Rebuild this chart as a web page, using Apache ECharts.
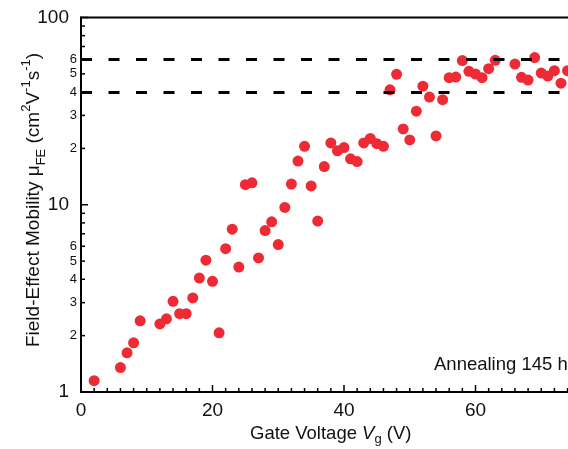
<!DOCTYPE html>
<html>
<head>
<meta charset="utf-8">
<script src="https://cdn.jsdelivr.net/npm/echarts@6/dist/echarts.min.js"></script>
<style>html,body{margin:0;padding:0;background:#fff;}#c{width:568px;height:449px;}</style>
</head>
<body>
<div id="c"></div>
<script>
const gateVoltage = [2,6,7,8,9,12,13,14,15,16,17,18,19,20,21,22,23,24,25,26,27,28,29,30,31,32,33,34,35,36,37,38,39,40,41,42,43,44,45,46,47,48,49,50,51,52,53,54,55,56,57,58,59,60,61,62,63,66,67,68,69,70,71,72,73,74];
const mobility = [1.15,1.35,1.62,1.83,2.40,2.31,2.46,3.05,2.62,2.62,3.18,4.06,5.06,3.90,2.07,5.83,7.41,4.65,12.8,13.1,5.20,7.28,8.11,6.13,9.67,12.9,17.1,20.5,12.6,8.18,16.0,21.4,19.4,20.2,17.6,17.0,21.4,22.6,21.2,20.5,41.1,49.7,25.4,22.2,31.6,43.0,37.6,23.3,36.4,47.7,48.1,58.9,51.6,49.9,47.7,53.3,59.1,56.4,47.9,46.3,61.1,50.5,48.7,52.0,44.6,52.0];
const refLines = [40, 60];
const xMajorTicks = [0, 20, 40, 60, 80];
const yMajorTicks = [1, 10, 100];
const yMinorTicks = [2,3,4,5,6,7,8,9,20,30,40,50,60,70,80,90];
const yMinorLabels = [2,3,4,5,6,20,30,40,50,60];
const xMinorTicks = [];
for (let v = 0; v <= 80; v += 2) if (v % 20 !== 0) xMinorTicks.push(v);

const FONT = '"Liberation Sans", Arial, sans-serif';
const chart = echarts.init(document.getElementById('c'), null, {renderer: 'canvas'});
const pts = gateVoltage.map((x, i) => [x, mobility[i]]);

function tickSeries(data, dir, len) {
  return {
    type: 'custom', xAxisIndex: 0, yAxisIndex: 0, silent: true, clip: false, z: 4,
    data: data,
    renderItem: function (params, api) {
      const p = api.coord([api.value(0), api.value(1)]);
      const shape = dir === 'y'
        ? {x1: p[0], y1: p[1], x2: p[0] + len, y2: p[1]}
        : {x1: p[0], y1: p[1], x2: p[0], y2: p[1] - len};
      return {type: 'line', shape: shape, style: {stroke: '#000', lineWidth: 1.5}};
    }
  };
}

chart.setOption({
  animation: false,
  backgroundColor: '#fff',
  grid: {left: 81, top: 17.5, width: 526, height: 374.5, containLabel: false, outerBoundsMode: 'none',
    show: true, borderColor: '#000', borderWidth: 2, backgroundColor: 'transparent'},
  xAxis: [{
    type: 'value', min: xMajorTicks[0], max: xMajorTicks[xMajorTicks.length - 1], interval: 20,
    axisLine: {show: true, lineStyle: {color: '#000', width: 2}},
    axisTick: {show: false}, minorTick: {show: false},
    axisLabel: {color: '#111', fontSize: 19, fontFamily: FONT, margin: 9},
    splitLine: {show: false}
  }],
  yAxis: [{
    type: 'log', logBase: 10, min: 1, max: 100,
    axisLine: {show: true, lineStyle: {color: '#000', width: 2}},
    axisTick: {show: false},
    axisLabel: {color: '#111', fontSize: 19, fontFamily: FONT, margin: 12, customValues: yMajorTicks},
    splitLine: {show: false}
  }, {
    type: 'log', logBase: 10, min: 1, max: 100, position: 'left', offset: 0,
    axisLine: {show: false}, axisTick: {show: false},
    axisLabel: {color: '#111', fontSize: 13, fontFamily: FONT, margin: 4, customValues: yMinorLabels,
      formatter: v => String(Math.round(v / (v >= 10 ? 10 : 1)))},
    splitLine: {show: false}
  }],
  series: [{
    type: 'scatter', xAxisIndex: 0, yAxisIndex: 0,
    data: pts, symbol: 'circle', symbolSize: 11,
    itemStyle: {color: '#EE2B35', opacity: 1},
    z: 3,
    markLine: {
      silent: true, symbol: ['none', 'none'], label: {show: false},
      lineStyle: {color: '#000', width: 3, type: [11, 16.5]},
      data: refLines.map(v => ({yAxis: v}))
    }
  },
  tickSeries(yMajorTicks.map(v => [0, v]), 'y', 7),
  tickSeries(yMinorTicks.map(v => [0, v]), 'y', 4),
  tickSeries(xMajorTicks.map(v => [v, 1]), 'x', 7),
  tickSeries(xMinorTicks.map(v => [v, 1]), 'x', 4)
  ],
  graphic: [{
    type: 'text', left: 434, top: 355,
    style: {text: 'Annealing 145 h', fontSize: 18.5, fontFamily: FONT, fill: '#111'}
  }, {
    type: 'text', x: 250, y: 422,
    style: {
      text: 'Gate Voltage {i|V}{sub|g} (V)',
      fontSize: 18.5, fontFamily: FONT, fill: '#111',
      rich: {
        i: {fontSize: 18.5, fontStyle: 'italic', fontFamily: FONT, fill: '#111', lineHeight: 24},
        sub: {fontSize: 13, fontFamily: FONT, fill: '#111', verticalAlign: 'bottom', lineHeight: 24}
      }
    }
  }, {
    type: 'text', x: 34, y: 200, rotation: Math.PI / 2,
    style: {
      text: 'Field-Effect Mobility μ{sub|FE} (cm{sup|2}V{sup|-1}s{sup|-1})',
      fontSize: 19, fontFamily: FONT, fill: '#111', align: 'center', verticalAlign: 'middle',
      rich: {
        sub: {fontSize: 13, fontFamily: FONT, fill: '#111', verticalAlign: 'bottom', lineHeight: 28},
        sup: {fontSize: 13, fontFamily: FONT, fill: '#111', verticalAlign: 'top', lineHeight: 28}
      }
    }
  }]
});
</script>
</body>
</html>
